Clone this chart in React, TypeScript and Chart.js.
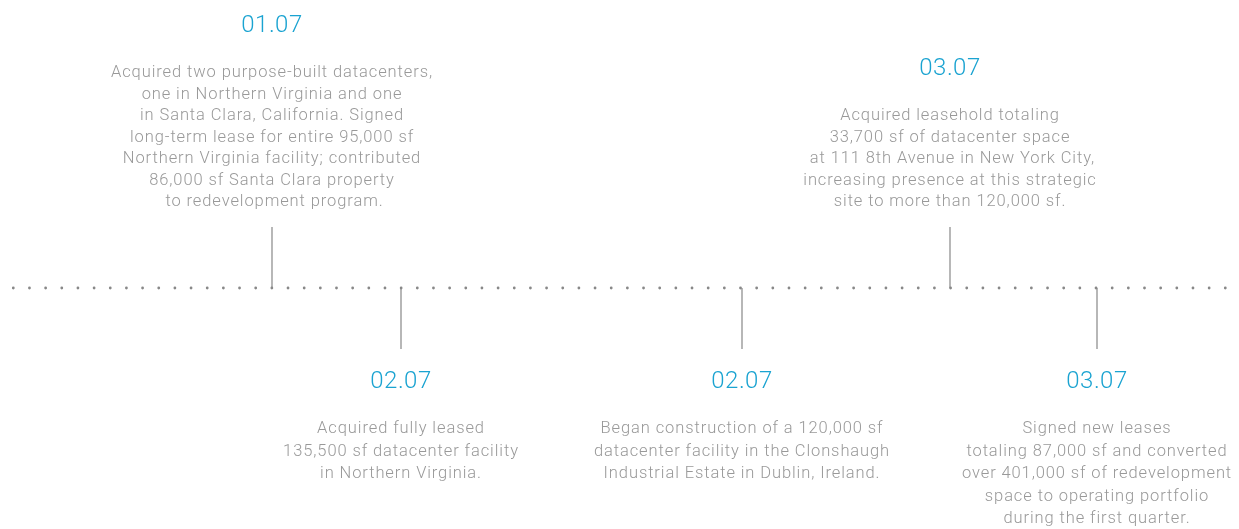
import React, { useEffect, useRef } from "react";
import { Chart, registerables } from "chart.js";

Chart.register(...registerables);

// ---- data ----
const eventDates = ["01.07", "02.07", "02.07", "03.07", "03.07"];
const eventPositions = [272, 401, 742, 950, 1097];
const eventSides = [1, -1, -1, 1, -1]; // 1 = above the timeline, -1 = below
const eventTexts: string[][] = [
  [
    "Acquired two purpose-built datacenters,",
    "one in Northern Virginia and one",
    "in Santa Clara, California. Signed",
    "long-term lease for entire 95,000 sf",
    "Northern Virginia facility; contributed",
    "86,000 sf Santa Clara property",
    " to redevelopment program.",
  ],
  [
    "Acquired fully leased",
    "135,500 sf datacenter facility",
    "in Northern Virginia.",
  ],
  [
    "Began construction of a 120,000 sf",
    "datacenter facility in the Clonshaugh",
    "Industrial Estate in Dublin, Ireland.",
  ],
  [
    "Acquired leasehold totaling",
    "33,700 sf of datacenter space",
    " at 111 8th Avenue in New York City,",
    "increasing presence at this strategic",
    "site to more than 120,000 sf.",
  ],
  [
    "Signed new leases",
    "totaling 87,000 sf and converted",
    "over 401,000 sf of redevelopment",
    "space to operating portfolio",
    "during the first quarter.",
  ],
];
const timelineRange = [13.3, 1225.3];

// ---- styles ----
const W = 1239;
const H = 529;
const AXIS_PX = 288;
const STEM = 61;
const LH_TOP = 21.5;
const LH_BOT = 22.5;
const FONT_FAMILY = "Roboto, 'Noto Sans', sans-serif";
const TEXT_COLOR = "#999999";
const HEAD_COLOR = "#1aa3d1";
const LINE_COLOR = "#888888";

export default function App() {
  const ref = useRef<HTMLCanvasElement | null>(null);

  useEffect(() => {
    document.body.style.margin = "0";
    const canvas = ref.current;
    if (!canvas) return;

    const textPlugin = {
      id: "timelineText",
      afterDatasetsDraw(chart: any) {
        const ctx = chart.ctx as CanvasRenderingContext2D;
        const xs = chart.scales.x;
        const ys = chart.scales.y;
        ctx.save();
        ctx.textAlign = "center";
        eventPositions.forEach((pos, i) => {
          const px = xs.getPixelForValue(pos);
          const side = eventSides[i];
          const stemEnd = ys.getPixelForValue(side * STEM);
          const lines = eventTexts[i];
          let headMid: number;
          let firstBase: number;
          let lh: number;
          if (side > 0) {
            lh = LH_TOP;
            const lastBase = stemEnd - 21;
            firstBase = lastBase - (lines.length - 1) * lh;
            headMid = firstBase - 51;
          } else {
            lh = LH_BOT;
            headMid = stemEnd + 33;
            firstBase = headMid + 51;
          }
          ctx.fillStyle = HEAD_COLOR;
          ctx.font = `300 24px ${FONT_FAMILY}`;
          ctx.textBaseline = "middle";
          (ctx as any).letterSpacing = "0.5px";
          ctx.fillText(eventDates[i], px, headMid);
          ctx.fillStyle = TEXT_COLOR;
          ctx.font = `300 16.5px ${FONT_FAMILY}`;
          ctx.textBaseline = "alphabetic";
          (ctx as any).letterSpacing = "0.9px";
          lines.forEach((ln, j) => {
            ctx.fillText(ln, px, firstBase + j * lh);
          });
        });
        ctx.restore();
      },
    };

    const datasets: any[] = [
      {
        type: "line",
        data: [
          { x: timelineRange[0], y: 0 },
          { x: timelineRange[1], y: 0 },
        ],
        borderColor: LINE_COLOR,
        borderWidth: 2.8,
        borderDash: [0, 16.16],
        borderCapStyle: "round",
        pointRadius: 0,
      },
      ...eventPositions.map((pos, i) => ({
        type: "line",
        data: [
          { x: pos, y: 0 },
          { x: pos, y: eventSides[i] * STEM },
        ],
        borderColor: LINE_COLOR,
        borderWidth: 1.2,
        pointRadius: 0,
      })),
    ];

    const chart = new Chart(canvas, {
      type: "scatter",
      data: { datasets },
      options: {
        animation: false,
        responsive: false,
        devicePixelRatio: 1,
        layout: { padding: 0 },
        plugins: { legend: { display: false }, tooltip: { enabled: false } },
        events: [],
        scales: {
          x: { type: "linear", min: 0, max: W, display: false },
          y: { type: "linear", min: -(H - AXIS_PX), max: AXIS_PX, display: false },
        },
      },
      plugins: [textPlugin],
    } as any);

    return () => chart.destroy();
  }, []);

  return (
    <div style={{ width: W, height: H, background: "#fff" }}>
      <canvas ref={ref} width={W} height={H} style={{ display: "block" }} />
    </div>
  );
}
